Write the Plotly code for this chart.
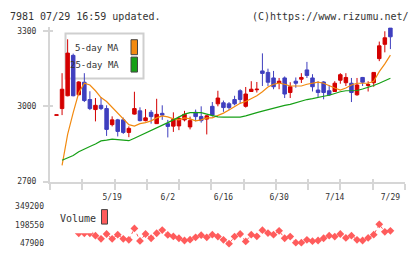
import numpy as np
import plotly.graph_objects as go

W, H = 420, 259
def px(x): return x / W
def py(y): return 1 - y / H

# ---------------- data ----------------
dates = ["5/1","5/2","5/7","5/8","5/9","5/12","5/13","5/14","5/15","5/16",
         "5/19","5/20","5/21","5/22","5/23","5/26","5/27","5/28","5/29","5/30",
         "6/2","6/3","6/4","6/5","6/6","6/9","6/10","6/11","6/12","6/13",
         "6/16","6/17","6/18","6/19","6/20","6/23","6/24","6/25","6/26","6/27",
         "6/30","7/1","7/2","7/3","7/4","7/7","7/8","7/9","7/10","7/11",
         "7/14","7/15","7/16","7/17","7/18","7/22","7/23","7/24","7/25","7/28","7/29"]
label_dates = ["5/19", "6/2", "6/16", "6/30", "7/14", "7/29"]

open_ = [2964,2991,3042,3203,3046,3096,3027,2987,3004,2991,
         2927,2946,2946,2896,2969,2982,2943,2976,2931,2972,
         2931,2921,2922,2946,2918,2976,2959,2949,3000,3010,
         3014,3010,3027,3062,3000,3059,3066,3141,3135,3113,
         3092,3113,3055,3100,3108,3145,3113,3065,3097,3062,
         3059,3104,3094,3092,3046,3115,3083,3094,3190,3247,3312]
high = [2966,3132,3267,3210,3100,3132,3060,3033,3037,3004,
        2960,2950,2955,2920,3058,2996,2989,2985,3030,3004,
        2946,2976,2959,2982,2959,2987,3000,2965,3017,3062,
        3023,3017,3042,3068,3077,3100,3097,3211,3150,3141,
        3113,3119,3096,3115,3132,3177,3128,3100,3100,3085,
        3100,3132,3132,3113,3113,3117,3100,3135,3258,3299,3312]
low = [2964,2965,3040,3040,3044,3017,2985,2940,2985,2882,
       2920,2880,2890,2877,2967,2940,2940,2931,2930,2946,
       2876,2898,2905,2940,2908,2940,2935,2888,2959,3000,
       2978,2985,3004,3013,2995,3058,3055,3081,3081,3068,
       3068,3033,3033,3074,3093,3113,3059,3036,3028,3042,
       3058,3090,3081,3017,3042,3081,3059,3078,3180,3215,3228]
close = [2966,3068,3212,3042,3097,3023,2991,3004,2991,2908,
         2946,2900,2896,2912,2991,2943,2954,2959,2968,2965,
         2920,2948,2952,2968,2943,2959,2943,2962,2965,3033,
         2995,2995,3010,3027,3049,3068,3068,3131,3096,3078,
         3100,3049,3078,3092,3115,3123,3078,3055,3055,3046,
         3092,3126,3115,3055,3085,3096,3087,3135,3241,3273,3277]

ma5 = [None,2765,2888,2975,3054,3092,3085,3062,3035,3019,
       2996,2969,2950,2927,2921,2931,2935,2942,2954,2962,
       2958,2950,2946,2954,2950,2942,2946,2954,2954,2962,
       2973,2985,3000,3012,3019,3031,3042,3058,3077,3088,
       3092,3088,3081,3081,3081,3088,3092,3096,3092,3081,
       3073,3065,3073,3085,3092,3092,3092,3100,3138,3169,3204]
ma25 = [None,2785,2796,2804,2819,2831,2840,2850,2862,2865,
        2869,2867,2865,2863,2873,2883,2892,2904,2915,2925,
        2935,2946,2958,2969,2975,2975,2975,2969,2963,2958,
        2957,2957,2957,2957,2962,2967,2975,2981,2987,2994,
        3000,3004,3008,3015,3021,3027,3031,3037,3040,3044,
        3052,3058,3062,3062,3063,3069,3075,3083,3092,3102,3112]

volume = [220000,300000,349200,260000,130700,130700,130700,111500,86200,124600,
          86200,119200,86200,78600,169000,69400,124600,90800,130700,156000,
          117700,105400,90800,73200,79300,98500,115400,98500,119200,103900,
          78600,47900,103900,124600,65500,119200,106200,155200,132200,119200,
          149900,90800,103900,55600,55600,78600,67800,73200,90800,111500,
          103900,124600,93900,111500,78600,73200,93900,119200,201200,142200,149900]

price_ticks = [2700, 3000, 3300]

# ---------------- geometry / style ----------------
idx = list(range(len(dates)))
X0, DX = 56.5, 5.565
x_range = [(50 - X0) / DX, (405 - X0) / DX]
x_dom = [px(50), px(405)]
y_range = [2700, 3300 + 4 * 600 / 156]
y_dom = [py(184), py(24)]
grid_ticks = list(np.linspace(x_range[0], x_range[1], 12))
label_idx = [dates.index(d) for d in label_dates]

vmin, vmax = min(volume), max(volume)
vmid = (vmin + vmax) / 2
v_dom = [py(248.3), py(209)]

FONT = "DejaVu Sans Mono"
AX = "#d6d6d6"
TXT = "#333333"
RED, BLUE = "#d40000", "#3f3fbf"
ORANGE, GREEN = "#f28a10", "#16a016"
VOLC = "#ff5c5c"

fig = go.Figure()
fig.add_trace(go.Candlestick(
    x=idx, open=open_, high=high, low=low, close=close,
    increasing=dict(line=dict(color=RED, width=1), fillcolor=RED),
    decreasing=dict(line=dict(color=BLUE, width=1), fillcolor=BLUE),
    whiskerwidth=0, showlegend=False, hoverinfo="skip", xaxis="x", yaxis="y"))
fig.add_trace(go.Scatter(x=idx, y=ma5, mode="lines", line=dict(color=ORANGE, width=1.2),
                         showlegend=False, xaxis="x", yaxis="y"))
fig.add_trace(go.Scatter(x=idx, y=ma25, mode="lines", line=dict(color=GREEN, width=1.2),
                         showlegend=False, xaxis="x", yaxis="y"))
fig.add_trace(go.Scatter(x=idx, y=volume, mode="lines+markers",
                         line=dict(color=VOLC, width=1, dash="dot"),
                         marker=dict(symbol="diamond", size=6, color=VOLC),
                         cliponaxis=False, showlegend=False, xaxis="x2", yaxis="y2"))
# carriers for overlay axes (inside tick halves and date labels)
fig.add_trace(go.Scatter(x=[None], y=[None], showlegend=False, xaxis="x3", yaxis="y3"))
fig.add_trace(go.Scatter(x=[None], y=[None], showlegend=False, xaxis="x4", yaxis="y"))

common_x = dict(domain=x_dom, range=x_range, showgrid=False, zeroline=False, fixedrange=True)
fig.update_layout(
    width=W, height=H, margin=dict(l=0, r=0, t=0, b=0),
    paper_bgcolor="white", plot_bgcolor="rgba(0,0,0,0)",
    boxgap=0.1, showlegend=False,
    font=dict(family=FONT, size=8, color=TXT),
    xaxis=dict(**common_x, anchor="y", showline=True, linecolor=AX, linewidth=2,
               ticks="outside", ticklen=6, tickwidth=2, tickcolor=AX,
               tickmode="array", tickvals=grid_ticks, showticklabels=False,
               rangeslider=dict(visible=False)),
    xaxis3=dict(**common_x, anchor="y3", overlaying="x", showline=False,
                ticks="inside", ticklen=3, tickwidth=2, tickcolor=AX,
                tickmode="array", tickvals=grid_ticks, showticklabels=False),
    xaxis4=dict(**common_x, anchor="y", overlaying="x", showline=False, ticks="",
                tickmode="array", tickvals=label_idx, ticktext=label_dates,
                tickfont=dict(family=FONT, size=8, color=TXT), ticklabelstandoff=9),
    yaxis=dict(domain=y_dom, range=y_range, anchor="x", showgrid=False, zeroline=False,
               showline=True, linecolor=AX, linewidth=2,
               ticks="outside", ticklen=5, tickwidth=2, tickcolor=AX,
               tickmode="array", tickvals=price_ticks,
               tickfont=dict(family=FONT, size=8, color=TXT), ticklabelstandoff=5),
    yaxis3=dict(domain=y_dom, range=y_range, anchor="x3", overlaying="y", showgrid=False,
                zeroline=False, showline=False, ticks="inside", ticklen=3, tickwidth=2,
                tickcolor=AX, tickmode="array", tickvals=price_ticks, showticklabels=False),
    xaxis2=dict(**common_x, anchor="y2", visible=False),
    yaxis2=dict(domain=v_dom, range=[vmin, vmax], anchor="x2", showgrid=False,
                zeroline=False, showline=False, ticks="",
                tickmode="array", tickvals=[vmin, vmid, vmax],
                ticktext=[f"{int(v)}" for v in (vmin, vmid, vmax)],
                tickfont=dict(family=FONT, size=8, color=TXT), ticklabelstandoff=5),
)

shapes = [
    # MA legend box (beneath the candles)
    dict(type="rect", xref="paper", yref="paper", layer="below",
         x0=px(65.5), x1=px(143.5), y0=py(77.3), y1=py(30.5),
         line=dict(color="#cfcfcf", width=2), fillcolor="white"),
    dict(type="rect", xref="paper", yref="paper", layer="below",
         x0=px(131), x1=px(137.5), y0=py(52.5), y1=py(37),
         line=dict(color="#444444", width=1), fillcolor=ORANGE),
    dict(type="rect", xref="paper", yref="paper", layer="below",
         x0=px(131), x1=px(137.5), y0=py(70.5), y1=py(55),
         line=dict(color="#444444", width=1), fillcolor=GREEN),
    # volume legend background
    dict(type="rect", xref="paper", yref="paper", layer="above",
         x0=px(51), x1=px(92.5), y0=py(237.6), y1=py(203),
         line=dict(width=0), fillcolor="white"),
    dict(type="rect", xref="paper", yref="paper", layer="above",
         x0=px(101.5), x1=px(107.5), y0=py(228), y1=py(213),
         line=dict(color="#444444", width=1), fillcolor=VOLC),
]
fig.update_layout(shapes=shapes)

ann = [
    dict(text="7981 07/29 16:59 updated.", x=px(8), y=py(12.5), xanchor="left",
         font=dict(size=10)),
    dict(text="(C)https://www.rizumu.net/", x=px(411), y=py(12.5), xanchor="right",
         font=dict(size=10)),
    dict(text="5-day MA", x=px(121), y=py(46), xanchor="right", font=dict(size=9)),
    dict(text="25-day MA", x=px(121), y=py(63.5), xanchor="right", font=dict(size=9)),
    dict(text="Volume", x=px(57.5), y=py(222), xanchor="left", font=dict(size=10)),
]
for a in ann:
    a.update(xref="paper", yref="paper", yanchor="middle", showarrow=False)
    a["font"].update(family=FONT, color=TXT)
fig.update_layout(annotations=ann)

fig.write_html("out.html")
